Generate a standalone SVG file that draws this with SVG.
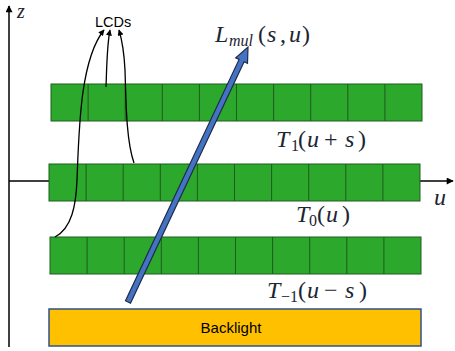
<svg xmlns="http://www.w3.org/2000/svg" xmlns:xlink="http://www.w3.org/1999/xlink" width="455" height="351" viewBox="0 0 455 351">
<style>
.axis{stroke:#000;stroke-width:1.5;fill:none}
.bar{fill:#2CA82C;stroke:#1F5C1F;stroke-width:1}
.div{stroke:#1F5C1F;stroke-width:1}
.curve{stroke:#000;stroke-width:1.3;fill:none;marker-end:url(#ah)}
.math{font-family:"Liberation Serif","DejaVu Serif",serif;font-size:24px;fill:#1c2533}
.it{font-style:italic}
.sub{font-size:16px}
.sans{font-family:"Liberation Sans","Open Sans",sans-serif;fill:#000}
</style>
<defs>
<marker id="ah" viewBox="0 0 10 10" refX="9" refY="5" markerWidth="7" markerHeight="6" orient="auto" markerUnits="userSpaceOnUse">
<path d="M0,0 L10,5 L0,10 z" fill="#000"/>
</marker>
<marker id="axh" viewBox="0 0 10 10" refX="9" refY="5" markerWidth="8" markerHeight="7" orient="auto" markerUnits="userSpaceOnUse">
<path d="M0,0 L10,5 L0,10 z" fill="#000"/>
</marker>
<g id="cells">
<rect class="bar" x="0" y="0" width="371" height="37"/>
<path class="div" d="M37.1,0V37M74.2,0V37M111.3,0V37M148.4,0V37M185.5,0V37M222.6,0V37M259.7,0V37M296.8,0V37M333.9,0V37"/>
</g>
</defs>
<g id="axes">
<line class="axis" x1="9" y1="347" x2="9" y2="6" marker-end="url(#axh)"/>
<line class="axis" x1="9" y1="181" x2="453" y2="181" marker-end="url(#axh)"/>
<text class="math it" x="17" y="18" style="font-size:20px">z</text>
<text class="math it" x="434" y="205" style="font-size:24px">u</text>
</g>
<g id="lcd-top"><use xlink:href="#cells" transform="translate(51,84)"/></g>
<g id="lcd-mid"><use xlink:href="#cells" transform="translate(49,164)"/></g>
<g id="lcd-bot"><use xlink:href="#cells" transform="translate(50,237)"/></g>
<g id="backlight">
<rect x="49" y="309" width="372" height="37" fill="#FFC000" stroke="#2F528F" stroke-width="1.5"/>
<text class="sans" x="231" y="333" font-size="15" text-anchor="middle">Backlight</text>
</g>
<g id="ray">
<polygon points="130.5,303.2 244.1,61.8 247.5,63.4 248,47 235.7,57.8 239.1,59.4 125.5,300.8" fill="#4472C4" stroke="#1F2A44" stroke-width="1.2" stroke-linejoin="miter"/>
</g>
<g id="lcds-label">
<text class="sans" x="95" y="27" font-size="14.5">LCDs</text>
</g>
<g id="connectors">
<path class="curve" d="M55,237 C72,228 76,205 77,180 C79,130 80,60 104,30"/>
<path class="curve" d="M106,87 C107,60 107,45 110,30"/>
<path class="curve" d="M134,163 C126,140 126,100 125,70 C124,50 122,40 119,30"/>
</g>
<g id="label-lmul">
<text class="math"><tspan class="it" x="215" y="42">L</tspan><tspan class="it sub" x="229" y="46">mul</tspan><tspan x="258" y="42">(</tspan><tspan class="it" x="267" y="42">s</tspan><tspan x="280" y="42">,</tspan><tspan class="it" x="289" y="42">u</tspan><tspan x="302" y="42">)</tspan></text>
</g>
<g id="label-t1">
<text class="math"><tspan class="it" x="276" y="147">T</tspan><tspan class="sub" x="291" y="151">1</tspan><tspan x="298" y="147">(</tspan><tspan class="it" x="307" y="147">u</tspan><tspan x="324" y="147">+</tspan><tspan class="it" x="345" y="147">s</tspan><tspan x="358" y="147">)</tspan></text>
</g>
<g id="label-t0">
<text class="math"><tspan class="it" x="296" y="222">T</tspan><tspan class="sub" x="309" y="226">0</tspan><tspan x="317" y="222">(</tspan><tspan class="it" x="326" y="222">u</tspan><tspan x="342" y="222">)</tspan></text>
</g>
<g id="label-tm1">
<text class="math"><tspan class="it" x="267" y="298">T</tspan><tspan class="sub" x="281" y="302">−1</tspan><tspan x="298" y="298">(</tspan><tspan class="it" x="307" y="298">u</tspan><tspan x="324" y="298">−</tspan><tspan class="it" x="345" y="298">s</tspan><tspan x="359" y="298">)</tspan></text>
</g>
</svg>
